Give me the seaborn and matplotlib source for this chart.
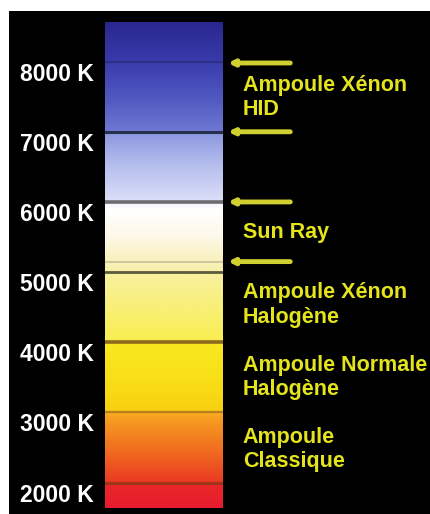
import numpy as np
import seaborn as sns
import matplotlib.pyplot as plt
from matplotlib.colors import LinearSegmentedColormap, Normalize
from matplotlib.transforms import ScaledTranslation

# Datos: temperaturas de color (K)
ticks_k = [2000, 3000, 4000, 5000, 6000, 7000, 8000]
tick_labels = ['2000 K', '3000 K', '4000 K', '5000 K', '6000 K', '7000 K', '8000 K']

# lignes de séparation dans la barre
lines_k = [2000, 3000, 4000, 5000, 5150, 6000, 7000, 8000]
lines_col = ['#a03418', '#b8801c', '#8c6a1c', '#5a5a3c', '#cfc79a', '#6e6e72', '#26304e', '#2c2e88']
lines_w = [2.2, 1.6, 2.6, 2.0, 1.4, 2.6, 2.2, 1.4]

# flèches
arrows_k = [7980, 7000, 6000, 5150]

# étiquettes des ampoules
lamp_labels = ['Ampoule Xénon\nHID', 'Sun Ray', 'Ampoule Xénon\nHalogène',
               'Ampoule Normale\nHalogène', 'Ampoule\nClassique']
lamp_k = [7488, 5571, 4531, 3498, 2472]

# dégradé de couleurs
stops_k = [1639, 1950, 2000, 2400, 2900, 2990, 3010, 3500, 3990, 4010, 4600, 4990,
           5010, 5200, 5500, 5900, 6000, 6010, 6500, 6990, 7010, 7500, 8000, 8564]
stops_col = ['#e81c30', '#e82828', '#ea3a22', '#f06820', '#f79c20', '#f8ac20',
             '#f8d010', '#f8e018', '#f8e820', '#f8ee50', '#f8f080', '#f8f0a0',
             '#f8f0a8', '#faf2c0', '#fdf8e8', '#ffffff', '#f2f2fc', '#dcdff8',
             '#b8c0ee', '#8c98e0', '#7078d4', '#5058c0', '#3a3cac', '#2a2890']

sns.set_style('dark')
plt.rcParams['font.family'] = ['Liberation Sans', 'DejaVu Sans']
plt.rcParams['font.weight'] = 'bold'

k_min, k_max = stops_k[0], stops_k[-1]
pos = [(k - k_min) / (k_max - k_min) for k in stops_k]
cmap = LinearSegmentedColormap.from_list('kelvin', list(zip(pos, stops_col)))

fig = plt.figure(figsize=(4.31, 5.14), dpi=100, facecolor='white')
bg = fig.add_axes([9 / 431, 0, 422 / 431, 503 / 514])
bg.set_facecolor('black')
bg.set_xticks([])
bg.set_yticks([])
for s in bg.spines.values():
    s.set_visible(False)

ax = fig.add_axes([105 / 431, 6 / 514, 118 / 431, 486 / 514])
grid_k = np.linspace(k_min, k_max, 800).reshape(-1, 1)
ax.imshow(grid_k, cmap=cmap, norm=Normalize(k_min, k_max), origin='lower',
          extent=[0, 1, k_min, k_max], aspect='auto', interpolation='bilinear')
ax.set_xlim(0, 1)
ax.set_ylim(k_min, k_max)
for s in ax.spines.values():
    s.set_visible(False)

for k, c, w in zip(lines_k, lines_col, lines_w):
    ax.axhline(k, color=c, lw=w)

ax.set_xticks([])
ax.set_yticks(ticks_k, tick_labels)
ax.tick_params(axis='y', length=0, pad=8, labelsize=16.5, labelcolor='white')
for lab in ax.get_yticklabels():
    lab.set_fontweight('bold')
    lab.set_transform(lab.get_transform() + ScaledTranslation(0, -0.10, fig.dpi_scale_trans))
ax.grid(False)

tr = ax.get_yaxis_transform()
for k in arrows_k:
    ax.annotate('', xy=(1.042, k), xytext=(1.57, k), xycoords=tr, textcoords=tr,
                annotation_clip=False,
                arrowprops=dict(arrowstyle='-|>', color='#d0d030', lw=3.5,
                                mutation_scale=8, shrinkA=0, shrinkB=0))

for lab, k in zip(lamp_labels, lamp_k):
    ax.text(1.169, k, lab, transform=tr, color='#e4e41c', fontsize=15.5,
            fontweight='bold', va='center', ha='left', linespacing=1.2, clip_on=False)

fig.savefig('out.png', dpi=100, facecolor='white')
